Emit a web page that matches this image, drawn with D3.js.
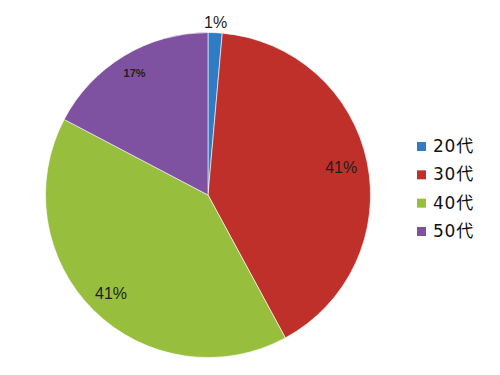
<!DOCTYPE html>
<html>
<head>
<meta charset="utf-8">
<script src="https://cdn.jsdelivr.net/npm/d3@7"></script>
<style>
  html, body { margin: 0; padding: 0; background: #fff; }
  svg { display: block; }
</style>
</head>
<body>
<svg id="chart" width="500" height="375"></svg>
<script>
const categories = ["20代", "30代", "40代", "50代"];
const values = [1.4, 40.7, 40.6, 17.3];
const labels = ["1%", "41%", "41%", "17%"];
const colors = ["#2F7BC4", "#C0302B", "#97BE3C", "#7E52A0"];

const svg = d3.select("#chart");
const cx = 208, cy = 195, R = 162.5;

const pie = d3.pie().sort(null).value(d => d.v);
const data = categories.map((c, i) => ({ c, v: values[i], label: labels[i], color: colors[i] }));
const arcs = pie(data);
const arc = d3.arc().innerRadius(0).outerRadius(R);

const g = svg.append("g").attr("transform", `translate(${cx},${cy})`);
g.selectAll("path.slice").data(arcs).enter().append("path")
  .attr("class", "slice")
  .attr("d", arc)
  .attr("fill", d => d.data.color)
  .attr("stroke", "#ffffff")
  .attr("stroke-width", 0.6);

// label radii & styles per slice
const labelR = [173, 136, 138, 142];
const labelSize = [16, 16, 16, 11];
const labelWeight = ["normal", "normal", "normal", "bold"];
g.selectAll("text.lbl").data(arcs).enter().append("text")
  .attr("class", "lbl")
  .attr("transform", (d, i) => {
    const a = (d.startAngle + d.endAngle) / 2;
    const r = labelR[i];
    return `translate(${r * Math.sin(a)},${-r * Math.cos(a)})`;
  })
  .attr("text-anchor", "middle")
  .attr("dy", "0.35em")
  .attr("font-family", "'Liberation Sans', Arial, sans-serif")
  .attr("font-size", (d, i) => labelSize[i])
  .attr("font-weight", (d, i) => labelWeight[i])
  .attr("fill", "#1e1e1e")
  .text(d => d.data.label);

// legend
const ly = d3.scalePoint().domain(categories).range([146, 231]);
const lg = svg.append("g");
const items = lg.selectAll("g").data(data).enter().append("g")
  .attr("transform", d => `translate(417,${ly(d.c)})`);
items.append("rect")
  .attr("x", 0).attr("y", -4)
  .attr("width", 9).attr("height", 9)
  .attr("fill", d => d.color);
items.append("text")
  .attr("x", 16).attr("y", 0)
  .attr("dy", "0.35em")
  .attr("font-family", "'DejaVu Sans', 'Noto Sans CJK JP', sans-serif")
  .attr("font-size", 17)
  .attr("letter-spacing", "0.8px")
  .attr("fill", "#111")
  .text(d => d.c);
</script>
</body>
</html>
